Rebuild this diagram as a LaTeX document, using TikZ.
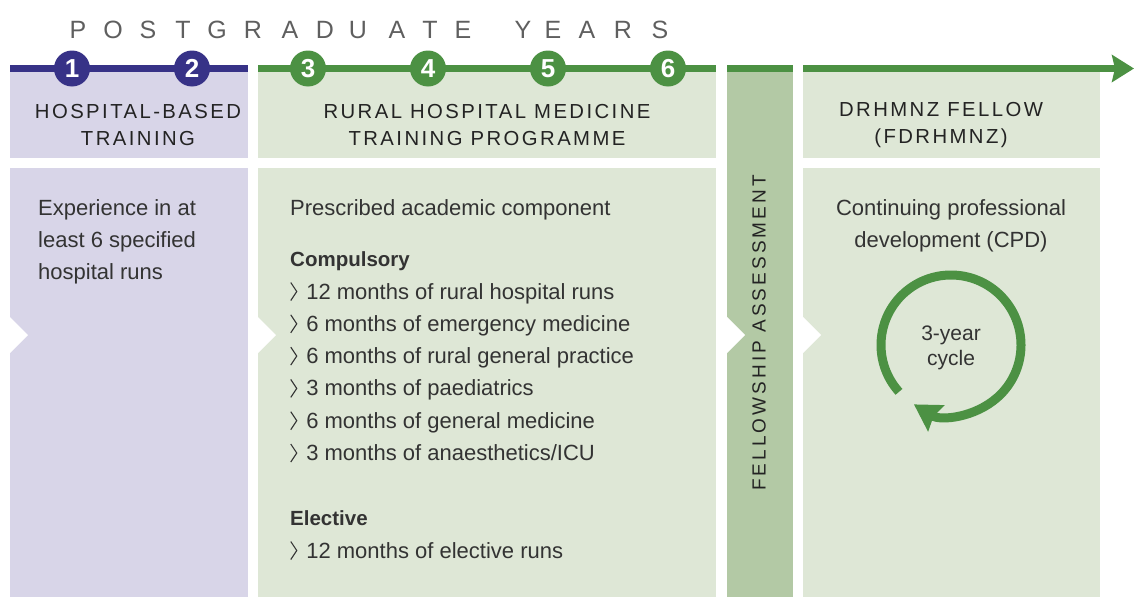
\documentclass[tikz,border=0pt]{standalone}
\usepackage{fontspec}
\setmainfont{Liberation Sans}
\usetikzlibrary{arrows.meta}
\definecolor{purp}{RGB}{55,50,135}
\definecolor{grn}{RGB}{76,145,67}
\definecolor{lav}{RGB}{216,213,232}
\definecolor{lgrn}{RGB}{222,231,214}
\definecolor{fgrn}{RGB}{179,201,165}
\definecolor{ink}{RGB}{51,51,51}
\definecolor{hink}{RGB}{35,35,35}
\definecolor{tgray}{RGB}{95,95,95}
\newcommand{\chev}{\tikz[x=1pt,y=1pt,baseline=0pt]\draw[ink,line width=1.1pt] (0,16.5) -- (6,7.5) -- (0,-1.5);\hspace{9pt}}
\tikzset{
  yearnum/.style={circle, fill=#1, text=white, minimum size=36pt, inner sep=0pt,
    font=\fontsize{26}{26}\selectfont\bfseries},
  titlechar/.style={anchor=base, text=tgray, inner sep=0pt, font=\fontsize{25}{25}\selectfont},
  headtext/.style={align=center, text=hink, inner sep=0pt,
    font=\fontsize{20.3}{27}\selectfont\addfontfeatures{LetterSpace=12}},
  bodytext/.style={anchor=base west, text=ink, inner sep=0pt, font=\fontsize{22}{32}\selectfont},
  boldtext/.style={bodytext, font=\fontsize{20.5}{32}\selectfont\bfseries},
}
\begin{document}
\begin{tikzpicture}[x=1pt,y=-1pt]
		%%%%% START %%%%%
		\useasboundingbox (0,0) rectangle (1134,597);
		
		% columns
		\fill[lav] (10,65) rectangle (248,158);
		\fill[lav] (10,168) rectangle (248,597);
		\fill[lgrn] (258,65) rectangle (716,158);
		\fill[lgrn] (258,168) rectangle (716,597);
		\fill[fgrn] (727,65) rectangle (793,597);
		\fill[lgrn] (803,65) rectangle (1100,158);
		\fill[lgrn] (803,168) rectangle (1100,597);
		
		\foreach \x in {10,258,727,803}
			\fill[white] (\x,317) -- (\x+18,335) -- (\x,353) -- cycle;
		
		% timeline
		\fill[purp] (10,65) rectangle (248,72);
		\fill[grn] (258,65) rectangle (716,72);
		\fill[grn] (727,65) rectangle (793,72);
		\coordinate (tlstart) at (803,68.5);
		\coordinate (tlend) at (1134,68.5);
		\draw[grn, line width=7pt, -{Stealth[length=22pt,width=27pt,inset=3pt]}] (tlstart) -- (tlend);
		
		\foreach \ch/\x [count=\i] in {P/78,O/113,S/148,T/183,G/217,R/253,A/290,D/325,U/358,A/397,T/430,E/463,Y/523,E/553,A/587,R/623,S/660}
			\node[titlechar] (ttl\i) at (\x,38) {\ch};
		
		\foreach \n/\x in {1/72,2/192}
			\node[yearnum=purp] (yr\n) at (\x,68.5) {\n};
		\foreach \n/\x in {3/308,4/428,5/548,6/668}
			\node[yearnum=grn] (yr\n) at (\x,68.5) {\n};
		
		% headers
		\node[headtext] (hosphead) at (138,125) {HOSPITAL-BASED\\TRAINING};
		\node[headtext] (rurhead) at (487,125) {RURAL HOSPITAL MEDICINE\\TRAINING PROGRAMME};
		\node[headtext] (felhead) at (941,125) {DRHMNZ FELLOW\\(FDRHMNZ)};
		\node[headtext, rotate=90, font=\fontsize{19}{19}\selectfont\addfontfeatures{LetterSpace=16}] (assess) at (759,333) {FELLOWSHIP ASSESSMENT};
		
		% hospital column
		\node[bodytext, anchor=north west, align=left] (exper) at (38,199.5) {Experience in at\\least 6 specified\\hospital runs};
		
		% rural column
		\node[bodytext] (prescr) at (290,215) {Prescribed academic component};
		\node[boldtext] (compul) at (290,266) {Compulsory};
		\foreach \txt [count=\i] in {{12 months of rural hospital runs},{6 months of emergency medicine},{6 months of rural general practice},{3 months of paediatrics},{6 months of general medicine},{3 months of anaesthetics/ICU}}
			\node[bodytext] (comp\i) at (290,299+32.3*\i-32.3) {\chev\txt};
		\node[boldtext] (elect) at (290,525) {Elective};
		\node[bodytext] (elect1) at (290,558) {\chev 12 months of elective runs};
		
		% fellow column
		\node[bodytext, anchor=north, align=center] (cpd) at (951,199.5) {Continuing professional\\development (CPD)};
		\draw[grn, line width=9pt, -{Stealth[length=26pt,width=30pt,inset=3pt]}] (951,345) ++(138:70) arc (138:482:70);
		\node[align=center, text=ink, font=\fontsize{21}{25}\selectfont] (cycle) at (951,348) {3-year\\cycle};
		
		%%%%% END %%%%%
	\end{tikzpicture}
\end{document}
